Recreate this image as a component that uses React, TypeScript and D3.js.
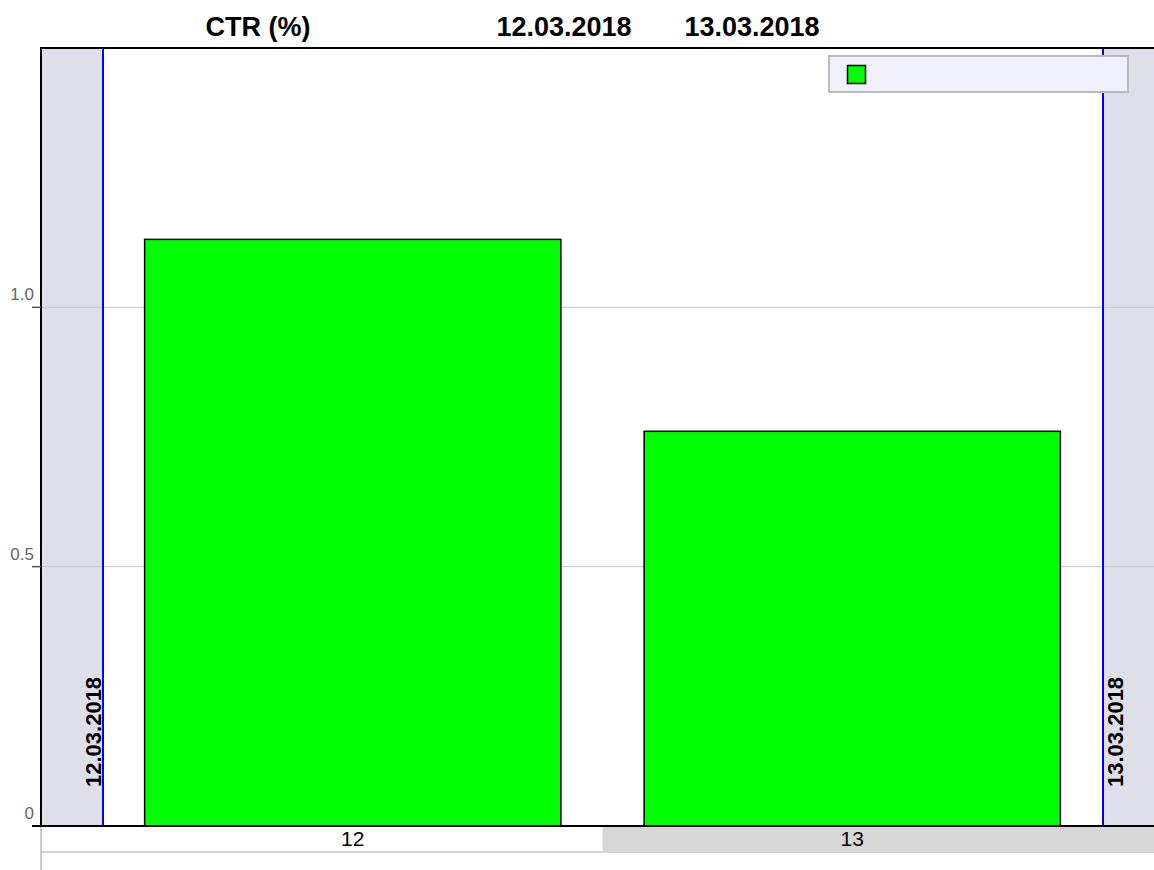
import React from "react";
import * as d3 from "d3";

const categories: string[] = ["12", "13"];
const ctrValues: number[] = [1.131, 0.761];
const yTicks: number[] = [0, 0.5, 1.0];
const yTickLabels: string[] = ["0", "0.5", "1.0"];
const headerLabels: string[] = ["CTR (%)", "12.03.2018", "13.03.2018"];
const markerLabels: string[] = ["12.03.2018", "13.03.2018"];

const W = 1154;
const H = 870;
const FONT = "'Liberation Sans', Arial, Helvetica, sans-serif";

export default function App() {
  const left = 41;
  const top = 48;
  const bottom = 826;
  const bandLeft = 103;
  const bandRight = 1103;

  const y = d3.scaleLinear().domain([0, 1.5]).range([bottom, top]);
  const x = d3
    .scaleBand<string>()
    .domain(categories)
    .range([bandLeft, bandRight - 1])
    .paddingInner(1 / 6)
    .paddingOuter(1 / 12);
  const step = x.step();
  const cellBoundary = (x(categories[1]) as number) - (step * (1 / 6)) / 2;

  const headerX = [258, 564, 752];
  const markerX = [bandLeft, bandRight];

  return (
    <svg
      width={W}
      height={H}
      style={{ position: "absolute", left: 0, top: 0, background: "#fff" }}
      fontFamily={FONT}
    >
      {/* shaded side bands */}
      <rect x={left} y={top} width={bandLeft - left} height={bottom - top} fill="#dfdfe9" />
      <rect x={bandRight} y={top} width={W - bandRight} height={bottom - top} fill="#dfdfe9" />

      {/* gridlines */}
      {yTicks.slice(1).map((t) => (
        <line key={"g" + t} x1={left} x2={W} y1={y(t)} y2={y(t)} stroke="#c8c8c8" strokeWidth={1} />
      ))}

      {/* date marker lines */}
      {markerX.map((mx, i) => (
        <line key={"m" + i} x1={mx} x2={mx} y1={top} y2={bottom - 1} stroke="#0000ff" strokeWidth={2} />
      ))}

      {/* bars */}
      {categories.map((c, i) => (
        <rect
          key={"b" + c}
          x={x(c)}
          y={y(ctrValues[i])}
          width={x.bandwidth()}
          height={bottom - y(ctrValues[i])}
          fill="#00ff00"
          stroke="#000"
          strokeWidth={1.5}
        />
      ))}

      {/* x category cells */}
      <rect x={cellBoundary} y={bottom + 1} width={W - cellBoundary} height={24} fill="#d8d8d8" />
      <line x1={left} x2={W} y1={852} y2={852} stroke="#d4d4d4" strokeWidth={2} />
      <line x1={left} x2={left} y1={bottom} y2={H} stroke="#cccccc" strokeWidth={2} />
      {categories.map((c) => (
        <text
          key={"xl" + c}
          x={(x(c) as number) + x.bandwidth() / 2}
          y={846}
          textAnchor="middle"
          fontSize={21}
          fill="#000"
        >
          {c}
        </text>
      ))}

      {/* frame */}
      <line x1={left} x2={W} y1={top} y2={top} stroke="#000" strokeWidth={2} />
      <line x1={left} x2={left} y1={top - 1} y2={bottom} stroke="#000" strokeWidth={2} />
      <line x1={32} x2={W} y1={bottom} y2={bottom} stroke="#000" strokeWidth={2} />

      {/* y ticks */}
      {yTicks.map((t, i) => (
        <g key={"yt" + t}>
          {t !== 0 && <line x1={32} x2={left} y1={y(t)} y2={y(t)} stroke="#555" strokeWidth={1.5} />}
          <text x={34} y={y(t) - 7} textAnchor="end" fontSize={17} fill="#666">
            {yTickLabels[i]}
          </text>
        </g>
      ))}

      {/* header labels */}
      {headerLabels.map((h, i) => (
        <text key={"h" + i} x={headerX[i]} y={36} textAnchor="middle" fontSize={27} fontWeight="bold" fill="#000">
          {h}
        </text>
      ))}

      {/* rotated marker labels */}
      {markerLabels.map((m, i) => (
        <text
          key={"ml" + i}
          transform={`translate(${markerX[i] + (i === 0 ? -2 : 20)},787) rotate(-90)`}
          textAnchor="start"
          fontSize={22}
          fontWeight="bold"
          fill="#000"
        >
          {m}
        </text>
      ))}

      {/* legend */}
      <rect x={829} y={56} width={299} height={36} fill="#f0f0fc" stroke="#bbbbbb" strokeWidth={2} />
      <rect x={847.5} y={65.5} width={18} height={18} fill="#00ff00" stroke="#000" strokeWidth={1.5} />
    </svg>
  );
}
